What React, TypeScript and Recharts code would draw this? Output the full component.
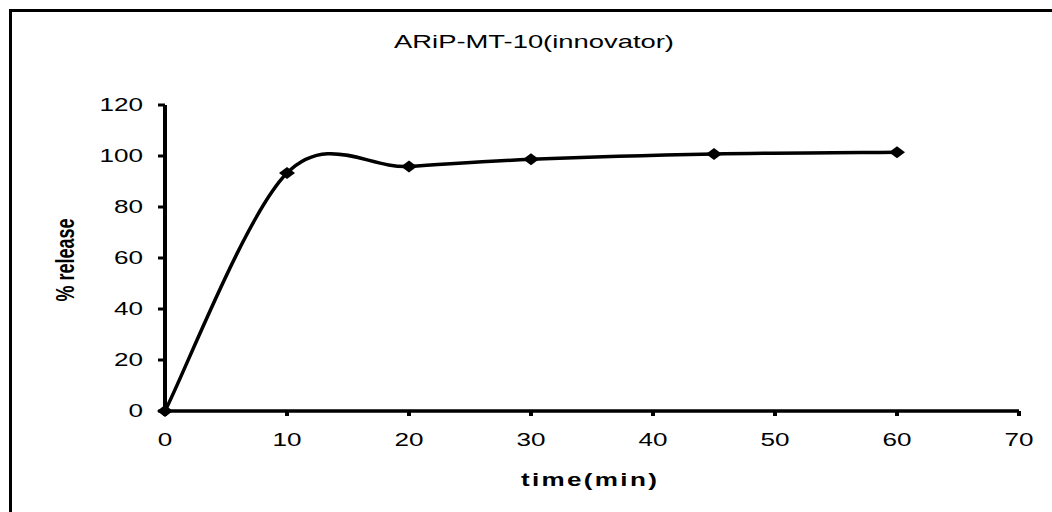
import React from "react";
import { LineChart, Line, XAxis, YAxis, ReferenceLine } from "recharts";

// dissolution profile
const times = [0, 10, 20, 30, 45, 60];
const release = [0, 93.3, 95.9, 98.7, 100.8, 101.5];
const xTicks = [0, 10, 20, 30, 40, 50, 60, 70];
const yTicks = [0, 20, 40, 60, 80, 100, 120];

const data = times.map((t, i) => ({ t, r: release[i] }));

const FONT = "'Liberation Sans', Arial, sans-serif";
const STRETCH = 1.45; // source picture is stretched sideways

// Excel-style smoothed line (Catmull-Rom through the points)
const excelSmooth = (ctx: any) => {
  let pts: number[][] = [];
  return {
    areaStart() {},
    areaEnd() {},
    lineStart() {
      pts = [];
    },
    point(x: number, y: number) {
      pts.push([+x, +y]);
    },
    lineEnd() {
      const n = pts.length;
      if (!n) return;
      ctx.moveTo(pts[0][0], pts[0][1]);
      for (let i = 0; i < n - 1; i++) {
        const p0 = pts[i - 1] || pts[i];
        const p1 = pts[i];
        const p2 = pts[i + 1];
        const p3 = pts[i + 2] || pts[i + 1];
        ctx.bezierCurveTo(
          p1[0] + (p2[0] - p0[0]) / 6,
          p1[1] + (p2[1] - p0[1]) / 6,
          p2[0] - (p3[0] - p1[0]) / 6,
          p2[1] - (p3[1] - p1[1]) / 6,
          p2[0],
          p2[1]
        );
      }
    },
  };
};

const Diamond = (props: any) => {
  const { cx, cy } = props;
  if (cx == null || cy == null) return null;
  return (
    <polygon
      points={`${cx - 8},${cy} ${cx},${cy - 6} ${cx + 8},${cy} ${cx},${cy + 6}`}
      fill="#000"
    />
  );
};

const YTick = (props: any) => {
  const { x, y, payload } = props;
  return (
    <text
      transform={`translate(${x},${y}) scale(${STRETCH},1)`}
      textAnchor="end"
      dominantBaseline="central"
      fontFamily={FONT}
      fontSize={18}
      fill="#000"
    >
      {payload.value}
    </text>
  );
};

const XTick = (props: any) => {
  const { x, y, payload } = props;
  return (
    <text
      transform={`translate(${x},${y}) scale(${STRETCH},1)`}
      textAnchor="middle"
      dominantBaseline="central"
      fontFamily={FONT}
      fontSize={18}
      fill="#000"
    >
      {payload.value}
    </text>
  );
};

export default function App() {
  return (
    <div style={{ position: "relative", width: 1052, height: 512, background: "#fff", overflow: "hidden" }}>
      <style>{"body{margin:0}"}</style>
      <div
        style={{
          position: "absolute",
          left: 9,
          top: 9,
          right: -10,
          bottom: -10,
          borderLeft: "3px solid #000",
          borderTop: "3px solid #000",
        }}
      />
      <LineChart
        width={1052}
        height={512}
        data={data}
        margin={{ top: 105, right: 33, bottom: 71, left: 105 }}
        style={{ position: "absolute", left: 0, top: 0 }}
      >
        <XAxis
          dataKey="t"
          type="number"
          domain={[0, 70]}
          ticks={xTicks}
          height={30}
          axisLine={{ stroke: "#000", strokeWidth: 3 }}
          tickLine={{ stroke: "#000", strokeWidth: 4 }}
          tickSize={5}
          tickMargin={24}
          tick={<XTick />}
          interval={0}
        />
        <YAxis
          type="number"
          domain={[0, 120]}
          ticks={yTicks}
          width={60}
          axisLine={{ stroke: "#000", strokeWidth: 4 }}
          tickLine={{ stroke: "#000", strokeWidth: 3 }}
          tickSize={7}
          tickMargin={15}
          tick={<YTick />}
          interval={0}
        />
        {/* heavier axis strokes, as in the Excel original */}
        <ReferenceLine x={0} stroke="#000" strokeWidth={4} />
        <ReferenceLine y={0} stroke="#000" strokeWidth={3} />
        <Line
          dataKey="r"
          type={excelSmooth as any}
          stroke="#000"
          strokeWidth={3.5}
          dot={<Diamond />}
          activeDot={false}
          isAnimationActive={false}
        />
        <text
          transform={`translate(534,48) scale(1.48,1)`}
          textAnchor="middle"
          fontFamily={FONT}
          fontSize={18.5}
          fill="#000"
        >
          ARiP-MT-10(innovator)
        </text>
        <text
          transform={`translate(590,486) scale(${STRETCH},1)`}
          textAnchor="middle"
          fontFamily={FONT}
          fontSize={18}
          fontWeight="bold"
          letterSpacing={1.6}
          fill="#000"
        >
          time(min)
        </text>
        <text
          transform={`translate(65,260) rotate(-90) scale(1,${STRETCH})`}
          textAnchor="middle"
          dominantBaseline="central"
          fontFamily={FONT}
          fontSize={18}
          fontWeight="bold"
          fill="#000"
        >
          % release
        </text>
      </LineChart>
    </div>
  );
}
